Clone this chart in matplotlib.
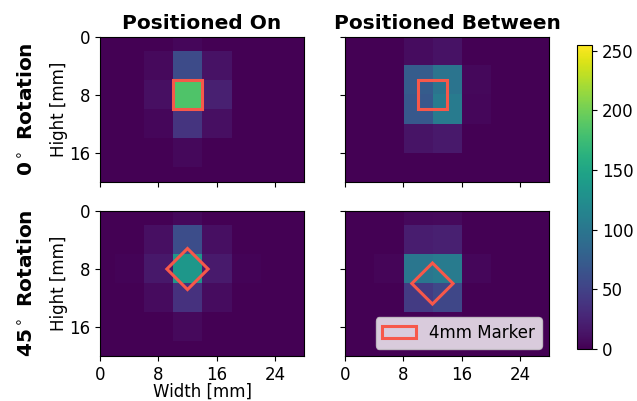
"""Marker response maps: positioned on / between pixels, 0 and 45 degree rotation."""

import matplotlib
matplotlib.use("Agg")
import matplotlib.pyplot as plt
import numpy as np
from matplotlib.patches import Rectangle, Polygon

# 4 mm pixel grid, values 0..255

# 0 deg, positioned on (pixel centres at multiples of 4 mm)
on_0 = np.array([
    [0, 0, 0, 4, 0, 0, 0, 0],
    [0, 0, 6, 58, 12, 0, 0, 0],
    [0, 0, 10, 185, 22, 0, 0, 0],
    [0, 0, 4, 38, 10, 0, 0, 0],
    [0, 0, 0, 5, 0, 0, 0, 0],
    [0, 0, 0, 0, 0, 0, 0, 0],
])
# 0 deg, positioned between (pixel edges at multiples of 4 mm)
between_0 = np.array([
    [0, 0, 8, 12, 0, 0, 0],
    [0, 0, 74, 98, 5, 0, 0],
    [0, 0, 70, 106, 4, 0, 0],
    [0, 0, 13, 17, 0, 0, 0],
    [0, 0, 0, 0, 0, 0, 0],
])
# 45 deg, positioned on
on_45 = np.array([
    [0, 0, 0, 5, 0, 0, 0, 0],
    [0, 0, 10, 60, 10, 0, 0, 0],
    [0, 2, 16, 135, 18, 2, 0, 0],
    [0, 0, 7, 36, 8, 0, 0, 0],
    [0, 0, 0, 6, 0, 0, 0, 0],
    [0, 0, 0, 0, 0, 0, 0, 0],
])
# 45 deg, positioned between (x edges at 4k, y edges at 2+4k)
between_45 = np.array([
    [0, 0, 5, 6, 0, 0, 0],
    [0, 0, 20, 22, 0, 0, 0],
    [0, 3, 100, 106, 4, 0, 0],
    [0, 0, 44, 54, 0, 0, 0],
    [0, 0, 1, 2, 0, 0, 0],
    [0, 0, 0, 0, 0, 0, 0],
])

marker_on = (12, 8)
marker_between_0 = (12, 8)
marker_between_45 = (12, 10)
marker_size = 4.0

col_titles = ["Positioned On", "Positioned Between"]
row_titles = [r"0$^\circ$ Rotation", r"45$^\circ$ Rotation"]
marker_color = "#f7584a"

fig = plt.figure(figsize=(6.37, 4.01), dpi=100)
gs = fig.add_gridspec(2, 2, left=0.157, right=0.862, top=0.908, bottom=0.112,
                      wspace=0.2, hspace=0.2)
axes = np.array([[fig.add_subplot(gs[r, c]) for c in range(2)] for r in range(2)])

panels = [
    [(on_0, (-2, 30, 22, -2)), (between_0, (0, 28, 20, 0))],
    [(on_45, (-2, 30, 22, -2)), (between_45, (0, 28, 22, -2))],
]

im = None
for r in range(2):
    for c in range(2):
        ax = axes[r, c]
        data, ext = panels[r][c]
        im = ax.imshow(data, cmap="viridis", vmin=0, vmax=255, extent=ext,
                       interpolation="nearest", aspect="auto")
        ax.set_xlim(0, 28)
        ax.set_ylim(20, 0)
        ax.set_xticks([0, 8, 16, 24])
        ax.set_yticks([0, 8, 16])
        ax.tick_params(labelsize=12)
        if r == 0:
            ax.tick_params(labelbottom=False)
            ax.set_title(col_titles[c], fontsize=14.5, fontweight="bold")
        if c == 1:
            ax.tick_params(labelleft=False)

        if c == 0:
            cx, cy = marker_on
        elif r == 0:
            cx, cy = marker_between_0
        else:
            cx, cy = marker_between_45
        h = marker_size / 2
        if r == 0:
            ax.add_patch(Rectangle((cx - h, cy - h), marker_size, marker_size,
                                   fill=False, edgecolor=marker_color, lw=2.2))
        else:
            d = h * np.sqrt(2)
            ax.add_patch(Polygon([(cx - d, cy), (cx, cy - d), (cx + d, cy), (cx, cy + d)],
                                 closed=True, fill=False, edgecolor=marker_color, lw=2.2))

for r in range(2):
    ax = axes[r, 0]
    ax.set_ylabel("Hight [mm]", fontsize=12, labelpad=1)
    ax.text(-0.358, 0.5, row_titles[r], transform=ax.transAxes, rotation=90,
            ha="center", va="center", fontsize=14.5, fontweight="bold")

axes[1, 0].set_xlabel("Width [mm]", fontsize=12, labelpad=-1)

legend_patch = Rectangle((0, 0), 1, 1, fill=False, edgecolor=marker_color, lw=2.2)
axes[1, 1].legend([legend_patch], ["4mm Marker"], loc="lower right", fontsize=12,
                  framealpha=0.8, borderaxespad=0.45)

cax = fig.add_axes([0.906, 0.130, 0.0235, 0.758])
cb = fig.colorbar(im, cax=cax, ticks=[0, 50, 100, 150, 200, 250])
cb.ax.tick_params(labelsize=12)

fig.savefig("out.png", dpi=100)
